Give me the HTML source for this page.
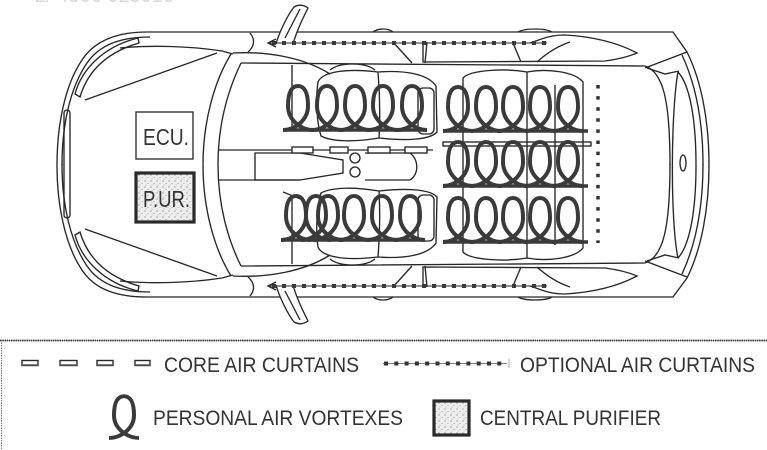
<!DOCTYPE html>
<html><head><meta charset="utf-8"><style>
html,body{margin:0;padding:0;background:#fff;}
svg{display:block;}
text{font-family:"Liberation Sans",sans-serif;fill:#333;}
</style></head><body>
<svg width="767" height="450" viewBox="0 0 767 450" xmlns="http://www.w3.org/2000/svg">
<defs>
<pattern id="st" width="6" height="6" patternUnits="userSpaceOnUse">
<rect width="6" height="6" fill="#eeeeee"/>
<circle cx="1" cy="1" r="0.6" fill="#777"/>
<circle cx="4" cy="3.5" r="0.55" fill="#8a8a8a"/>
<circle cx="2" cy="5" r="0.45" fill="#999"/>
</pattern>
<path id="lp" d="M-15,0 C-3,0 10,-10 10,-24 C10,-38 6,-44 0,-44 C-6,-44 -10,-38 -10,-24 C-10,-10 3,0 15,0" fill="none" stroke="#3a3a3a" stroke-width="4"/>
<g id="half" fill="none" stroke="#262626" stroke-width="1.35">
<path d="M150,37 C122,37 100,44 87,63 C70,88 62,125 62,165"/>
<path d="M75,94 C82,68 105,46 138,38 L139,43 C108,52 88,70 80,97 Z"/>
<path d="M85,100 L217,53"/>
<path d="M120,48 C150,45 190,46 222,51 L233,54"/>
<path d="M241,63 L645,66 C663,72 670,100 670,165"/>
<path d="M233,53 C268,51 305,58 330,74"/>
<path d="M250,33 C255,39 255,46 248,52"/>
<path d="M393,42 L412,63 M427,42 L425,63"/>
<path d="M423,44 L423,62 L605,61 C620,59 630,56 637,53 C622,45 600,37 565,35 C548,35 540,40 530,43"/>
<path d="M513,43 L521,62 M537,62 C548,52 558,46 570,42"/>
<path d="M373,32 C378,28 388,28 393,32 M518,32 C525,28 545,28 552,32"/>
<path d="M645,68 L687,52"/>
<path d="M682,55 C696,85 703,120 703,165"/>
<path d="M647,68 L665,74 L679,71"/>
<path d="M276,44 C279,33 287,16 294,7 Q301,3 308,8 C303,18 297,30 293,44" fill="#fff"/>
<path d="M285,38 L300,9"/>
<path d="M292,65 L292,130"/>
<path d="M318,82 C322,72 345,68 378,72 C380,95 380,120 379,138 C355,142 332,142 321,136 C316,120 316,95 318,82 Z"/>
<path d="M378,72 C405,70 428,74 436,86 L437,132 C430,140 405,141 379,138"/>
<rect x="418" y="88" width="16" height="46" rx="5"/>
<path d="M330,70 C340,62 365,62 375,70"/>
<path d="M270,43 L547,43" stroke-width="1"/>
<path d="M272,43 L547,43" stroke="#3a3a3a" stroke-width="4" stroke-dasharray="4 6"/>
<path d="M276,39 L268,43 L276,47"/>
</g>
</defs>
<rect width="767" height="450" fill="#fff"/>
<text x="35" y="2" font-size="20" style="fill:#d8d8d8">2/ 4566 025010</text>

<g fill="none" stroke="#262626" stroke-width="1.35">
<path d="M147,32 L673,32 L687,52 C701,80 709,120 709,165 C709,210 701,250 687,278 L673,297 L147,297 C118,297 95,290 82,270 C65,245 57,205 57,165 C57,125 65,85 82,60 C95,40 118,32 147,32 Z"/>
<rect x="64" y="110" width="6" height="108" rx="3"/>
<path d="M231,54 C215,80 203,120 203,165 C203,210 215,250 231,276"/>
<path d="M241,63 C228,90 218,125 218,165 C218,205 228,240 241,266"/>
<path d="M678,72 C671,110 670,220 678,258"/>
<path d="M678,72 C690,85 696,120 696,165 C696,210 690,245 678,258"/>
<ellipse cx="683" cy="163" rx="3" ry="8"/>
<path d="M218,150 L433,150"/>
<path d="M218,180 L300,180"/>
<path d="M255,153 L300,153 L343,160 L343,173 L300,180 L255,180 Z"/>
<circle cx="355" cy="158" r="5"/>
<circle cx="355" cy="172" r="5"/>
<path d="M365,153 L410,153 C419,160 419,174 410,180 L365,180"/>
<g fill="#fff">
<rect x="292" y="147" width="21" height="6"/>
<rect x="330" y="147" width="18" height="6"/>
<rect x="368" y="147" width="22" height="6"/>
<rect x="405" y="147" width="22" height="6"/>
</g>
<path d="M463,78 C470,70 505,68 527,72 L527,258 C505,262 470,260 463,252 Z"/>
<path d="M527,72 C548,68 575,72 583,82 L583,248 C575,258 548,262 527,258"/>
<path d="M555,85 L555,245"/>
<rect x="443" y="142" width="148" height="4"/>
<path d="M283,192 L303,200"/>
</g>
<use href="#half"/>
<use href="#half" transform="matrix(1,0,0,-1,0,329)"/>

<path d="M598,85 L598,243" stroke="#333" stroke-width="3.5" stroke-dasharray="3.5 7.6" fill="none"/>

<rect x="136" y="112" width="57" height="47" fill="#fff" stroke="#333" stroke-width="1.4"/>
<text x="143" y="145" font-size="23" textLength="46" lengthAdjust="spacingAndGlyphs">ECU.</text>
<rect x="136" y="173" width="58" height="49" fill="url(#st)" stroke="#2a2a2a" stroke-width="3.2"/>
<text x="143" y="207" font-size="23" textLength="47" lengthAdjust="spacingAndGlyphs">P.UR.</text>

<g stroke="#3a3a3a" stroke-width="3.6" fill="none">
<path d="M284,130 L426,130"/>
<path d="M282,240 L424,240"/>
<path d="M444,131 L588,131"/>
<path d="M444,186 L588,186"/>
<path d="M444,242 L588,242"/>
</g>
<use href="#lp" x="298" y="130"/><use href="#lp" x="327" y="130"/><use href="#lp" x="355" y="130"/><use href="#lp" x="383" y="130"/><use href="#lp" x="412" y="130"/>
<use href="#lp" x="296" y="240"/><use href="#lp" x="316" y="240"/><use href="#lp" x="328" y="240"/><use href="#lp" x="354" y="240"/><use href="#lp" x="382" y="240"/><use href="#lp" x="410" y="240"/>
<use href="#lp" x="458" y="131"/><use href="#lp" x="486" y="131"/><use href="#lp" x="513" y="131"/><use href="#lp" x="540" y="131"/><use href="#lp" x="568" y="131"/>
<use href="#lp" x="458" y="186"/><use href="#lp" x="486" y="186"/><use href="#lp" x="513" y="186"/><use href="#lp" x="540" y="186"/><use href="#lp" x="568" y="186"/>
<use href="#lp" x="458" y="242"/><use href="#lp" x="486" y="242"/><use href="#lp" x="513" y="242"/><use href="#lp" x="540" y="242"/><use href="#lp" x="568" y="242"/>

<path d="M0,340.5 L767,340.5" stroke="#3a3a3a" stroke-width="1.8" stroke-dasharray="1.6 0.6"/>
<path d="M1.5,340 L1.5,450" stroke="#777" stroke-width="1" stroke-dasharray="1.5 1"/>
<g fill="#fff" stroke="#2a2a2a" stroke-width="1.4">
<rect x="22" y="360.5" width="16" height="5"/>
<rect x="60" y="360.5" width="17" height="5"/>
<rect x="97" y="360.5" width="16" height="5"/>
<rect x="135" y="360.5" width="15" height="5"/>
</g>
<g stroke="#555" stroke-width="1.4">
<path d="M22,365 L38,365 M60,365 L77,365 M97,365 L113,365 M135,365 L150,365"/>
</g>
<text x="164" y="372" font-size="21" textLength="195" lengthAdjust="spacingAndGlyphs">CORE AIR CURTAINS</text>
<path d="M383,363.5 L507,363.5" stroke="#555" stroke-width="0.8"/>
<path d="M384,363.5 L507,363.5" stroke="#333" stroke-width="4" stroke-dasharray="4 6.3"/>
<path d="M509,359 L509,368" stroke="#aaa" stroke-width="1"/>
<text x="520" y="372" font-size="21" textLength="235" lengthAdjust="spacingAndGlyphs">OPTIONAL AIR CURTAINS</text>
<use href="#lp" transform="translate(124,438) scale(1,0.95)"/>
<text x="153" y="425" font-size="21" textLength="250" lengthAdjust="spacingAndGlyphs">PERSONAL AIR VORTEXES</text>
<rect x="434" y="401" width="35" height="34" fill="url(#st)" stroke="#2a2a2a" stroke-width="3.2"/>
<text x="480" y="425" font-size="21" textLength="181" lengthAdjust="spacingAndGlyphs">CENTRAL PURIFIER</text>
</svg>
</body></html>
